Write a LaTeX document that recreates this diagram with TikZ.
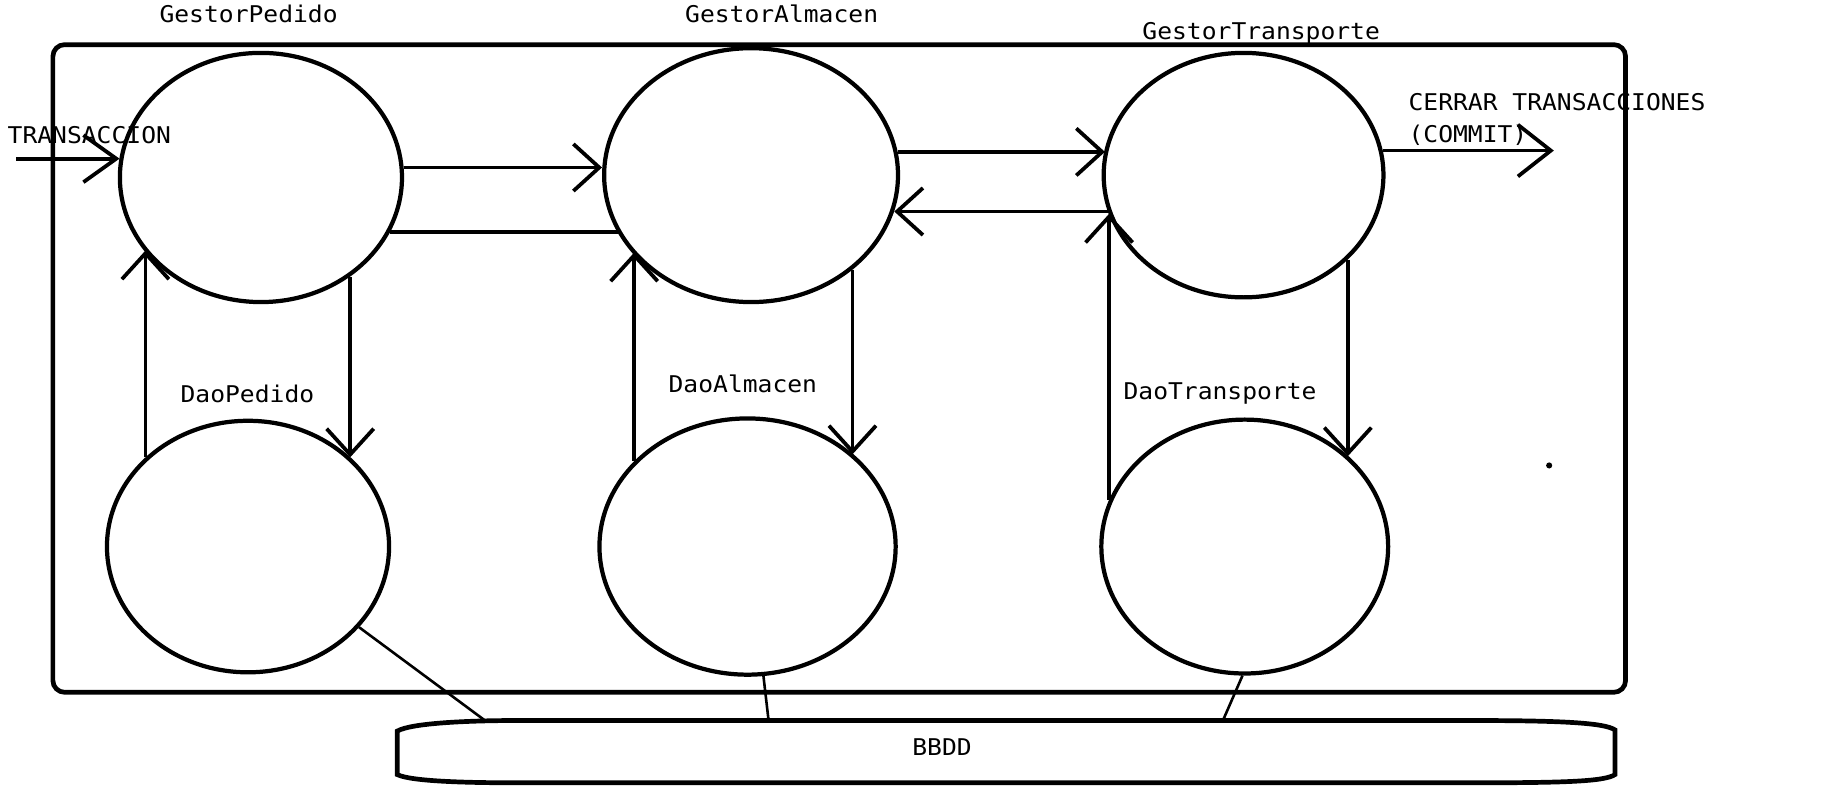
\documentclass[tikz,border=0pt]{standalone}
\usepackage{fontspec}
\newfontfamily\monof{DejaVu Sans Mono}[FakeStretch=1.07]
\usetikzlibrary{arrows.meta,shapes.geometric}
\begin{document}
\begin{tikzpicture}[x=0.5pt,y=-0.5pt,
  blob/.style={draw, ellipse, line width=1.8pt, inner sep=0pt},
  lbl/.style={font=\monof\fontsize{9.8}{13.5}\selectfont, inner sep=0pt, anchor=base},
  conn/.style={line width=1.6pt},
  arr/.style={conn, -{Straight Barb[length=11pt,width=20pt,line width=1.6pt]}},
  dbline/.style={line width=1.1pt},
]
\useasboundingbox (0,0) rectangle (1568,678);
% container
\node[draw, line width=2pt, rounded corners=5pt, minimum width=669pt, minimum height=275.5pt, inner sep=0pt] (frame) at (714,313.5) {};
% ellipses
\node[blob, minimum width=120pt, minimum height=106pt] (gp) at (222,151) {};
\node[blob, minimum width=125pt, minimum height=108pt] (ga) at (639,149) {};
\node[blob, minimum width=119pt, minimum height=104pt] (gt) at (1058,149) {};
\node[blob, minimum width=120pt, minimum height=107pt] (dp) at (211,465) {};
\node[blob, minimum width=126pt, minimum height=109pt] (da) at (636,465) {};
\node[blob, minimum width=122pt, minimum height=108pt] (dt) at (1059,465) {};
% labels
\node[lbl] (lgp) at (211.5,19.3) {GestorPedido};
\node[lbl] (lga) at (665,19.3) {GestorAlmacen};
\node[lbl] (lgt) at (1073,33.5) {GestorTransporte};
\node[lbl] (ltr) at (76,122) {TRANSACCION};
\node[lbl, anchor=north west, align=left] (lcom) at (1198,79.4) {CERRAR TRANSACCIONES\\(COMMIT)};
\node[lbl] (ldp) at (210.5,342.3) {DaoPedido};
\node[lbl] (lda) at (632,334) {DaoAlmacen};
\node[lbl] (ldt) at (1038,339.5) {DaoTransporte};
% database
\node[inner sep=0pt, minimum width=518pt, minimum height=26.5pt] (bbdd) at (856,639.5) {};
\draw[line width=2pt] (338,622) .. controls (350,615) and (400,613) .. (440,613) -- (1250,613)
  .. controls (1330,613) and (1365,615) .. (1374,621) -- (1374,659)
  .. controls (1365,665) and (1330,666) .. (1250,666) -- (440,666)
  .. controls (400,666) and (350,665) .. (338,659) -- cycle;
\node[lbl] (lbb) at (801.5,643) {BBDD};
\coordinate (b1) at (414,614);
\coordinate (b2) at (654,614);
\coordinate (b3) at (1040,614);
\coordinate (tin) at (16,135);
\coordinate (tout) at (1322,128);
% connectors
\draw[conn, -{Straight Barb[length=14pt,width=20pt,line width=1.6pt]}] (tin -| frame.west) ++(-29,0) -- (gp.172.3 |- tin);
\draw[arr] (gp.4.8) -- (gp.4.8 -| ga.west);
\draw[conn] (gp.-23.6) -- (gp.-23.6 -| ga.-156.3);
\draw[arr] (dp.139.7) -- (dp.139.7 |- gp.212);
\draw[arr] (gp.-48.4) -- (gp.-48.4 |- dp.41.6);
\draw[arr] (ga.9.7) -- (ga.9.7 -| gt.169.8);
\draw[arr] (gt.195.3) -- (gt.195.3 -| ga.-14.5);
\draw[arr] (da.143.7) -- (da.143.7 |- ga.213.7);
\draw[arr] (ga.-43) -- (ga.-43 |- da.41.6);
\draw[arr] (dt.161.3) -- (dt.161.3 |- gt.196.1);
\draw[arr] (gt.-39.2) -- (gt.-39.2 |- dt.41.7);
\draw[conn, -{Straight Barb[length=14pt,width=22pt,line width=1.6pt]}] (gt.10.2) -- (gt.10.2 -| tout);
\draw[dbline] (dp.-36) -- (b1);
\draw[dbline] (da.-83) -- (b2);
\draw[dbline] (dt.-91) -- (b3);
\fill (1318,396) circle (1.3pt);
\end{tikzpicture}
\end{document}
